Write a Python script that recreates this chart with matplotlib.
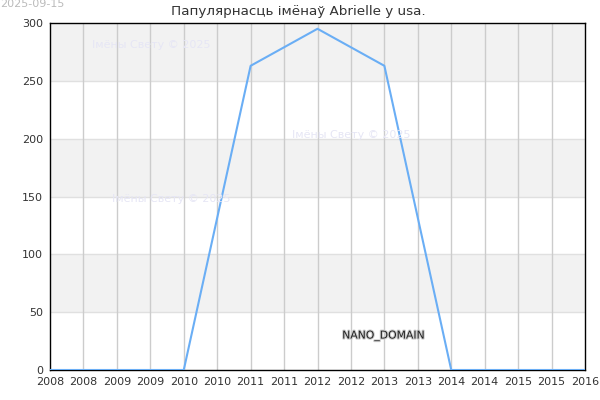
import matplotlib
matplotlib.use("Agg")
import matplotlib.pyplot as plt
import matplotlib.patheffects as pe

years = [2008, 2009, 2010, 2011, 2012, 2013, 2014, 2015, 2016]
values = [0, 0, 0, 263, 295, 263, 0, 0, 0]
tick_pos = [2008 + 0.5 * i for i in range(17)]
tick_labels = [str(int(t)) for t in tick_pos]
y_ticks = [0, 50, 100, 150, 200, 250, 300]
title = "Папулярнасць імёнаў Abrielle у usa."
date_text = "2025-09-15"
watermark = "Імёны Свету © 2025"
domain_text = "NANO_DOMAIN"

fig = plt.figure(figsize=(6, 4), dpi=100)
ax = fig.add_axes([50/600, 1 - 370/400, 535/600, 347/400])
ax.set_xlim(2008, 2016)
ax.set_ylim(0, 300)

# alternating bands
for i in range(0, 6):
    lo, hi = y_ticks[i], y_ticks[i + 1]
    if i % 2 == 1:
        ax.axhspan(lo, hi, color="#f2f2f2", zorder=0, lw=0)
for y in y_ticks[1:-1]:
    ax.axhline(y, color="#e0e0e0", lw=1, zorder=1)
for x in tick_pos[1:-1]:
    ax.axvline(x, color="#cccccc", lw=1, zorder=1)

ax.plot(years, values, color="#6aaef5", lw=1.5, zorder=3)

ax.set_xticks(tick_pos)
ax.set_xticklabels(tick_labels)
ax.set_yticks(y_ticks)
ax.tick_params(length=0, labelsize=8, colors="#333333", pad=5)
for s in ax.spines.values():
    s.set_color("black")
    s.set_linewidth(1)

fig.text(0.497, 1 - 11/400, title, ha="center", va="center", fontsize=9.7, color="#333333")
fig.text(0.0, 1 - 4/400, date_text, ha="left", va="center", fontsize=8, color="#bbbbbb")

wm_color = "#e6e6f5"
for (px, py) in [(92, 45), (292, 135), (112, 199)]:
    fig.text(px/600, 1 - py/400, watermark, ha="left", va="center", fontsize=8, color=wm_color, zorder=5)

t = fig.text(384/600, 1 - 336/400, domain_text, ha="center", va="center", fontsize=7.8,
             color="#222222", zorder=6)
t.set_path_effects([pe.withStroke(linewidth=1.5, foreground="#cccccc")])

fig.savefig("out.png", dpi=100)
